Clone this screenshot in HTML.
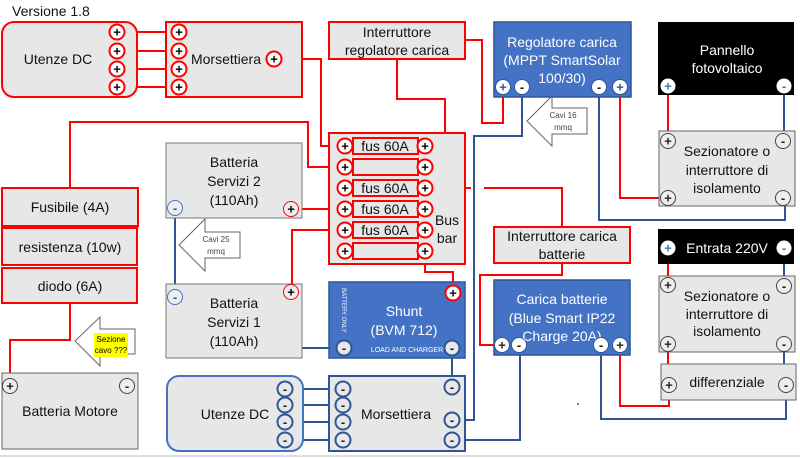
<!DOCTYPE html>
<html><head><meta charset="utf-8"><style>
html,body{margin:0;padding:0;background:#fff}
svg{display:block;font-family:"Liberation Sans",sans-serif}
.t{font-size:14px;fill:#111;text-anchor:middle}
.w{font-size:14px;fill:#fff;text-anchor:middle}
.r{stroke:#ff0000;stroke-width:2;fill:none}
.b{stroke:#2f5597;stroke-width:2;fill:none}
.cr{fill:#fff;stroke:#ff0000;stroke-width:2}
.cg{fill:#eee;stroke:#444;stroke-width:1}
.cb{fill:#e8e8e8;stroke:#2f5597;stroke-width:2}
.cw{fill:#fff;stroke:#2f5597;stroke-width:1}
.s{font-size:13px;text-anchor:middle;dominant-baseline:central;font-weight:bold}
</style></head><body>
<svg width="800" height="458" viewBox="0 0 800 458" xmlns="http://www.w3.org/2000/svg">
<text x="12" y="16" font-size="14" fill="#111">Versione 1.8</text>
<line x1="0" y1="456" x2="800" y2="456" stroke="#ddd" stroke-width="2"/>

<path class="r" d="M124 32H172M124 51H172M124 69H172M124 87H172"/>
<path class="r" d="M281 59H321V146H339"/>
<path class="r" d="M397 59V99H445V146H432"/>
<path class="r" d="M465 40H482V123H503V94"/>
<path class="r" d="M339 167H308V122H70V188"/>
<path class="r" d="M70 303V340H10V380"/>
<path class="r" d="M298 209H339"/>
<path class="r" d="M339 230H292V285"/>
<path class="r" d="M425 258V272H453V286"/>
<path class="r" d="M432 188H471M484 188H562V227"/>
<path class="r" d="M562 263V275H480V345H496"/>
<path class="r" d="M620 94V198H661"/>
<path class="r" d="M668 93V135"/>
<path class="r" d="M620 352V406H669V392"/>
<path class="r" d="M668 255V278M668 351V378"/>
<path class="b" d="M175 215V348H337"/>
<path class="b" d="M452 355V380"/>
<path class="b" d="M292 389H337M292 405H337M292 422H337M292 440H337"/>
<path class="b" d="M459 420H474V136H522V94"/>
<path class="b" d="M459 440H520V352"/>
<path class="b" d="M599 94V220H785V205"/>
<path class="b" d="M784 93V135"/>
<path class="b" d="M601 352V419H786V392"/>
<path class="b" d="M784 255V279M784 351V378" stroke-width="1.5"/>

<rect x="2" y="22" width="135" height="75" rx="12" fill="#e7e7e7" stroke="#f00" stroke-width="2"/>
<text class="t" x="58" y="64" font-size="15">Utenze DC</text>
<rect x="166" y="22" width="136" height="75" fill="#e7e7e7" stroke="#f00" stroke-width="2"/>
<text class="t" x="226" y="64" font-size="15">Morsettiera</text>

<rect x="329" y="22" width="136" height="37" fill="#e7e7e7" stroke="#f00" stroke-width="2"/>
<text class="t" x="397" y="37">Interruttore</text>
<text class="t" x="397" y="55">regolatore carica</text>

<rect x="329" y="133" width="136" height="131" fill="#e7e7e7" stroke="#f00" stroke-width="2"/>
<g fill="#e7e7e7" stroke="#f00" stroke-width="2">
<rect x="353" y="138" width="65" height="16"/><rect x="353" y="159" width="65" height="16"/>
<rect x="353" y="180" width="65" height="16"/><rect x="353" y="201" width="65" height="16"/>
<rect x="353" y="222" width="65" height="16"/><rect x="353" y="243" width="65" height="16"/>
</g>
<text class="t" x="385" y="151">fus 60A</text>
<text class="t" x="385" y="193">fus 60A</text>
<text class="t" x="385" y="214">fus 60A</text>
<text class="t" x="385" y="235">fus 60A</text>
<text class="t" x="447" y="225">Bus</text>
<text class="t" x="447" y="243">bar</text>

<rect x="2" y="188" width="136" height="38" fill="#e7e7e7" stroke="#f00" stroke-width="2"/>
<text class="t" x="70" y="212">Fusibile (4A)</text>
<rect x="2" y="228" width="135" height="37" fill="#e7e7e7" stroke="#f00" stroke-width="2"/>
<text class="t" x="70" y="252">resistenza (10w)</text>
<rect x="2" y="268" width="135" height="35" fill="#e7e7e7" stroke="#f00" stroke-width="2"/>
<text class="t" x="70" y="291">diodo (6A)</text>
<rect x="2" y="373" width="136" height="76" fill="#e7e7e7" stroke="#666" stroke-width="1"/>
<text class="t" x="70" y="416">Batteria Motore</text>

<path d="M75 341L100 317V329H135V354H100V366Z" fill="#fff" stroke="#666"/>
<rect x="94" y="333" width="34" height="24" fill="#ff0"/>
<text x="111" y="342" font-size="8" text-anchor="middle">Sezione</text>
<text x="111" y="353" font-size="8" text-anchor="middle">cavo ???</text>
<path d="M179 245L205 219V232H240V258H205V271Z" fill="#fff" stroke="#666"/>
<text x="216" y="242" font-size="8" text-anchor="middle" fill="#444">Cavi 25</text>
<text x="216" y="254" font-size="8" text-anchor="middle" fill="#444">mmq</text>
<path d="M527 121L552 96V108H587V134H552V146Z" fill="#fff" stroke="#666"/>
<text x="563" y="118" font-size="8" text-anchor="middle" fill="#444">Cavi 16</text>
<text x="563" y="130" font-size="8" text-anchor="middle" fill="#444">mmq</text>

<rect x="166" y="143" width="136" height="75" fill="#e7e7e7" stroke="#777" stroke-width="1"/>
<text class="t" x="234" y="167" font-size="15">Batteria</text>
<text class="t" x="234" y="186" font-size="15">Servizi 2</text>
<text class="t" x="234" y="205" font-size="15">(110Ah)</text>
<rect x="166" y="284" width="136" height="74" fill="#e7e7e7" stroke="#777" stroke-width="1"/>
<text class="t" x="234" y="308" font-size="15">Batteria</text>
<text class="t" x="234" y="327" font-size="15">Servizi 1</text>
<text class="t" x="234" y="346" font-size="15">(110Ah)</text>

<rect x="329" y="282" width="136" height="76" fill="#4472c4" stroke="#2f5597" stroke-width="1.5"/>
<text x="342" y="288" font-size="6" fill="#fff" transform="rotate(90 342 288)">BATTERY  ONLY</text>
<text class="w" x="404" y="316" font-size="15">Shunt</text>
<text class="w" x="404" y="335" font-size="15">(BVM 712)</text>
<text x="407" y="352" font-size="7" fill="#fff" text-anchor="middle">LOAD AND CHARGER</text>

<rect x="167" y="376" width="136" height="75" rx="12" fill="#e7e7e7" stroke="#4472c4" stroke-width="2"/>
<text class="t" x="235" y="419" font-size="15">Utenze DC</text>
<rect x="329" y="376" width="136" height="75" fill="#e7e7e7" stroke="#2f5597" stroke-width="2"/>
<text class="t" x="396" y="419" font-size="15">Morsettiera</text>

<rect x="494" y="22" width="137" height="75" fill="#4472c4" stroke="#2f5597" stroke-width="1.5"/>
<text class="w" x="562" y="47">Regolatore carica</text>
<text class="w" x="562" y="65">(MPPT SmartSolar</text>
<text class="w" x="562" y="83">100/30)</text>

<rect x="494" y="227" width="136" height="36" fill="#e7e7e7" stroke="#f00" stroke-width="2"/>
<text class="t" x="562" y="241">Interruttore carica</text>
<text class="t" x="562" y="259">batterie</text>

<rect x="494" y="280" width="136" height="75" fill="#4472c4" stroke="#2f5597" stroke-width="1.5"/>
<text class="w" x="562" y="304">Carica batterie</text>
<text class="w" x="562" y="323">(Blue Smart IP22</text>
<text class="w" x="562" y="341">Charge 20A)</text>

<rect x="658" y="22" width="136" height="73" fill="#000"/>
<text class="w" x="727" y="55">Pannello</text>
<text class="w" x="727" y="73">fotovoltaico</text>
<rect x="659" y="131" width="136" height="75" fill="#e7e7e7" stroke="#666" stroke-width="1"/>
<text class="t" x="727" y="156">Sezionatore o</text>
<text class="t" x="727" y="175">interruttore di</text>
<text class="t" x="727" y="193">isolamento</text>
<rect x="658" y="229" width="136" height="35" fill="#000"/>
<text class="w" x="727" y="253">Entrata 220V</text>
<rect x="659" y="276" width="136" height="76" fill="#e7e7e7" stroke="#666" stroke-width="1"/>
<text class="t" x="727" y="301">Sezionatore o</text>
<text class="t" x="727" y="319">interruttore di</text>
<text class="t" x="727" y="336">isolamento</text>
<rect x="661" y="364" width="135" height="36" fill="#e7e7e7" stroke="#666" stroke-width="1"/>
<text class="t" x="727" y="387">differenziale</text>
<circle cx="578" cy="404" r="1" fill="#2f5597"/>

<g>
<circle class="cr" cx="117" cy="32" r="7.5"/><circle class="cr" cx="117" cy="51" r="7.5"/>
<circle class="cr" cx="117" cy="69" r="7.5"/><circle class="cr" cx="117" cy="87" r="7.5"/>
<circle class="cr" cx="179" cy="32" r="7.5"/><circle class="cr" cx="179" cy="51" r="7.5"/>
<circle class="cr" cx="179" cy="69" r="7.5"/><circle class="cr" cx="179" cy="87" r="7.5"/>
<circle class="cr" cx="274" cy="59" r="7.5"/>
<circle class="cr" cx="345" cy="146" r="7.5"/><circle class="cr" cx="425" cy="146" r="7.5"/>
<circle class="cr" cx="345" cy="167" r="7.5"/><circle class="cr" cx="425" cy="167" r="7.5"/>
<circle class="cr" cx="345" cy="188" r="7.5"/><circle class="cr" cx="425" cy="188" r="7.5"/>
<circle class="cr" cx="345" cy="209" r="7.5"/><circle class="cr" cx="425" cy="209" r="7.5"/>
<circle class="cr" cx="345" cy="230" r="7.5"/><circle class="cr" cx="425" cy="230" r="7.5"/>
<circle class="cr" cx="345" cy="251" r="7.5"/><circle class="cr" cx="425" cy="251" r="7.5"/>
<circle class="cr" cx="453" cy="293" r="7.5"/>
</g>
<g class="s" fill="#000">
<text x="117" y="32">+</text><text x="117" y="51">+</text><text x="117" y="69">+</text><text x="117" y="87">+</text>
<text x="179" y="32">+</text><text x="179" y="51">+</text><text x="179" y="69">+</text><text x="179" y="87">+</text>
<text x="274" y="59">+</text>
<text x="345" y="146">+</text><text x="425" y="146">+</text>
<text x="345" y="167">+</text><text x="425" y="167">+</text>
<text x="345" y="188">+</text><text x="425" y="188">+</text>
<text x="345" y="209">+</text><text x="425" y="209">+</text>
<text x="345" y="230">+</text><text x="425" y="230">+</text>
<text x="345" y="251">+</text><text x="425" y="251">+</text>
<text x="453" y="293">+</text>
</g>
<circle cx="291" cy="209" r="7.5" fill="#eee" stroke="#f00" stroke-width="1"/>
<circle cx="291" cy="292" r="7.5" fill="#eee" stroke="#f00" stroke-width="1"/>
<text class="s" x="291" y="209" font-weight="normal">+</text>
<text class="s" x="291" y="292" font-weight="normal">+</text>
<circle cx="175" cy="208" r="7.5" fill="#eee" stroke="#4472c4" stroke-width="1"/>
<circle cx="175" cy="297" r="7.5" fill="#eee" stroke="#4472c4" stroke-width="1"/>
<text class="s" x="175" y="208" fill="#2f5597">-</text>
<text class="s" x="175" y="297" fill="#2f5597">-</text>

<g>
<circle class="cg" cx="10" cy="386" r="7.5"/><circle class="cg" cx="127" cy="386" r="7.5"/>
<circle class="cg" cx="668" cy="141" r="7.5"/><circle class="cg" cx="783" cy="141" r="7.5"/>
<circle class="cg" cx="668" cy="198" r="7.5"/><circle class="cg" cx="783" cy="198" r="7.5"/>
<circle class="cg" cx="668" cy="285" r="7.5"/><circle class="cg" cx="784" cy="286" r="7.5"/>
<circle class="cg" cx="668" cy="344" r="7.5"/><circle class="cg" cx="784" cy="344" r="7.5"/>
<circle class="cg" cx="669" cy="385" r="7.5"/><circle class="cg" cx="786" cy="385" r="7.5"/>
</g>
<g class="s" fill="#222" font-weight="normal">
<text x="10" y="386">+</text><text x="127" y="386">-</text>
<text x="668" y="141">+</text><text x="783" y="141">-</text>
<text x="668" y="198">+</text><text x="783" y="198">-</text>
<text x="668" y="285">+</text><text x="784" y="286">-</text>
<text x="668" y="344">+</text><text x="784" y="344">-</text>
<text x="669" y="385">+</text><text x="786" y="385">-</text>
</g>

<g>
<circle class="cb" cx="344" cy="348" r="7.5"/><circle class="cb" cx="452" cy="348" r="7.5"/>
<circle class="cb" cx="285" cy="389" r="7.5"/><circle class="cb" cx="285" cy="405" r="7.5"/>
<circle class="cb" cx="285" cy="422" r="7.5"/><circle class="cb" cx="285" cy="440" r="7.5"/>
<circle class="cb" cx="343" cy="389" r="7.5"/><circle class="cb" cx="343" cy="405" r="7.5"/>
<circle class="cb" cx="343" cy="422" r="7.5"/><circle class="cb" cx="343" cy="440" r="7.5"/>
<circle class="cb" cx="452" cy="387" r="7.5"/><circle class="cb" cx="452" cy="420" r="7.5"/>
<circle class="cb" cx="452" cy="440" r="7.5"/>
<circle class="cw" cx="503" cy="87" r="7.5"/><circle class="cw" cx="522" cy="87" r="7.5"/>
<circle class="cw" cx="599" cy="87" r="7.5"/><circle class="cw" cx="620" cy="87" r="7.5"/>
<circle class="cw" cx="502" cy="345" r="7.5"/><circle class="cw" cx="519" cy="345" r="7.5"/>
<circle class="cw" cx="601" cy="345" r="7.5"/><circle class="cw" cx="620" cy="345" r="7.5"/>
<circle cx="668" cy="86" r="7.5" fill="#fff"/><circle cx="784" cy="86" r="7.5" fill="#fff"/>
<circle cx="668" cy="248" r="7.5" fill="#fff"/><circle cx="784" cy="248" r="7.5" fill="#fff"/>
</g>
<g class="s" fill="#222">
<text x="344" y="348">-</text><text x="452" y="348">-</text>
<text x="285" y="389">-</text><text x="285" y="405">-</text><text x="285" y="422">-</text><text x="285" y="440">-</text>
<text x="343" y="389">-</text><text x="343" y="405">-</text><text x="343" y="422">-</text><text x="343" y="440">-</text>
<text x="452" y="387">-</text><text x="452" y="420">-</text><text x="452" y="440">-</text>
<text x="503" y="87" fill="#2f5597">+</text><text x="522" y="87">-</text>
<text x="599" y="87">-</text><text x="620" y="87" fill="#2f5597">+</text>
<text x="502" y="345">+</text><text x="519" y="345">-</text>
<text x="601" y="345">-</text><text x="620" y="345">+</text>
<text x="668" y="86" fill="#4472c4">+</text><text x="784" y="86" fill="#4472c4">-</text>
<text x="668" y="248" fill="#4472c4">+</text><text x="784" y="248" fill="#4472c4">-</text>
</g>
</svg>
</body></html>
